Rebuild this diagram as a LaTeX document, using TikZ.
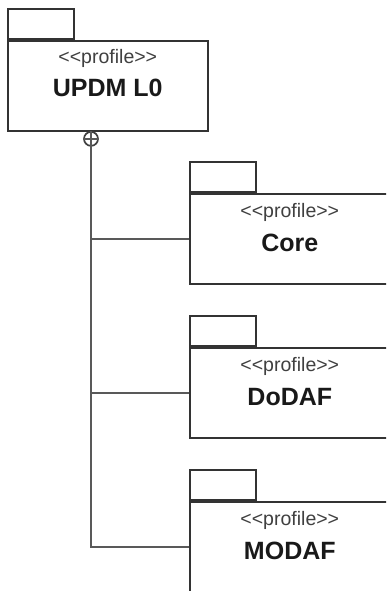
\documentclass[tikz,border=0pt]{standalone}
\usepackage{fontspec}
\setmainfont{Liberation Sans}
\usetikzlibrary{calc}
\begin{document}
\begin{tikzpicture}[x=1pt,y=-1pt,
  pkgbody/.style={draw=black!80, line width=1.6pt, fill=white, minimum width=200pt, minimum height=90pt, inner sep=0pt, anchor=north west},
  pkgtab/.style={draw=black!80, line width=1.6pt, fill=white, minimum width=66pt, minimum height=30pt, inner sep=0pt, anchor=south west},
  stereo/.style={font=\fontsize{19.5}{21}\selectfont, text=black!75, inner sep=0pt},
  pname/.style={font=\fontsize{25}{27}\selectfont\bfseries, text=black!90, inner sep=0pt},
  conn/.style={draw=black!65, line width=1.5pt},
  contain/.style={circle, draw=black!75, line width=1.7pt, minimum size=14pt, inner sep=0pt, anchor=north}]
\useasboundingbox (0,0) rectangle (386,591);
\clip (0,0) rectangle (386,591);
% packages
\node[pkgbody] (updm) at (7,40) {};
\node[pkgtab] (updmtab) at (updm.north west) {};
\node[stereo] (updms) at ($(updm.north)+(0,18)$) {{<}{<}profile{>}{>}};
\node[pname] (updmn) at ($(updm.north)+(0,48)$) {UPDM L0};

\node[pkgbody] (core) at (189,193) {};
\node[pkgtab] (coretab) at (core.north west) {};
\node[stereo] (cores) at ($(core.north)+(0,19)$) {{<}{<}profile{>}{>}};
\node[pname] (coren) at ($(core.north)+(0,50)$) {Core};

\node[pkgbody] (dodaf) at (189,347) {};
\node[pkgtab] (dodaftab) at (dodaf.north west) {};
\node[stereo] (dodafs) at ($(dodaf.north)+(0,19)$) {{<}{<}profile{>}{>}};
\node[pname] (dodafn) at ($(dodaf.north)+(0,50)$) {DoDAF};

\node[pkgbody] (modaf) at (189,501) {};
\node[pkgtab] (modaftab) at (modaf.north west) {};
\node[stereo] (modafs) at ($(modaf.north)+(0,19)$) {{<}{<}profile{>}{>}};
\node[pname] (modafn) at ($(modaf.north)+(0,50)$) {MODAF};

% containment
\node[contain] (cont) at (91,131) {};
\draw[conn] (cont.north) -- (cont.south) (cont.west) -- (cont.east);
\draw[conn] (cont.south) |- (core.west);
\draw[conn] (cont.south) |- (dodaf.west);
\draw[conn] (cont.south) |- (modaf.west);
\end{tikzpicture}
\end{document}
